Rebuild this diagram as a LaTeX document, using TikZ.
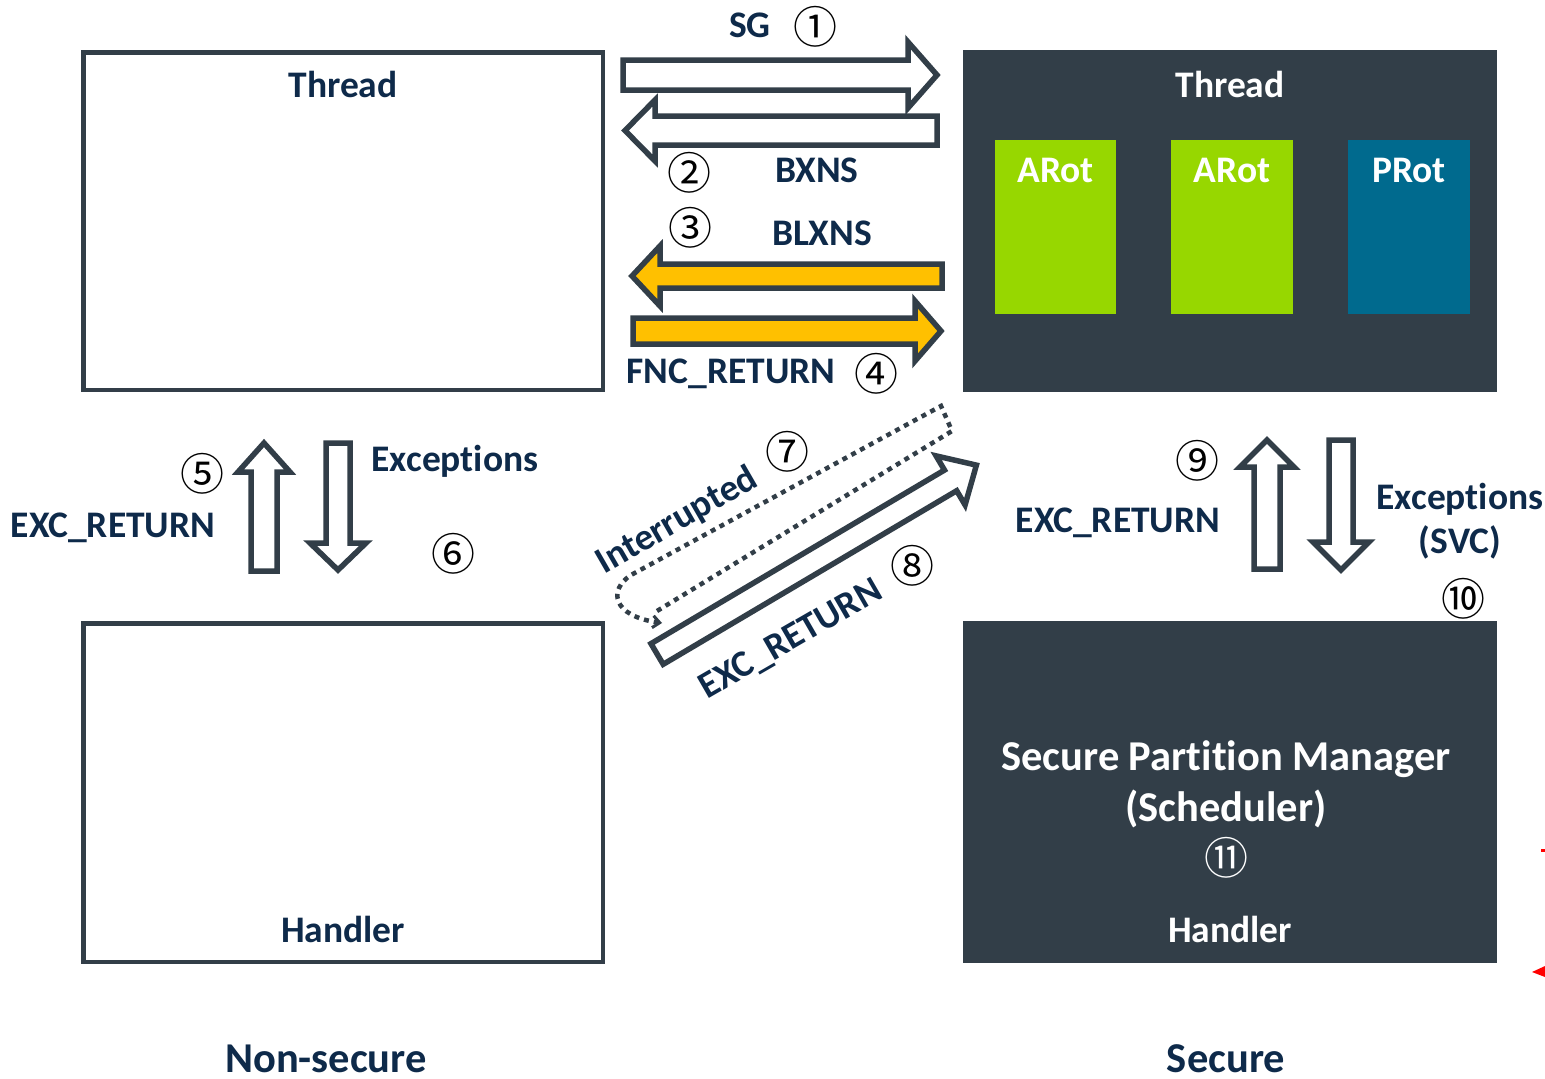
\documentclass[tikz,border=0pt]{standalone}
\usepackage{fontspec}
\setmainfont{Carlito}[Ligatures=NoCommon]
\newfontfamily\cjk{Noto Sans CJK JP}
\usetikzlibrary{arrows.meta}
\definecolor{slate}{RGB}{50,62,72}
\definecolor{navy}{RGB}{14,42,74}
\definecolor{argreen}{RGB}{151,215,0}
\definecolor{prblue}{RGB}{0,106,142}
\definecolor{amber}{RGB}{255,192,0}
\begin{document}
\begin{tikzpicture}[x=1pt,y=-1pt,
  lbl/.style={font=\fontsize{37.5}{42}\selectfont\bfseries, text=navy, inner sep=0pt, anchor=base},
  wlbl/.style={lbl, text=white},
  big/.style={font=\fontsize{42.5}{48}\selectfont\bfseries, text=navy, inner sep=0pt, anchor=base},
  wbig/.style={big, text=white},
  num/.style={font=\cjk\fontsize{44}{48}\selectfont, inner sep=0pt, text=black},
  nsbox/.style={draw=slate, line width=4.5pt, fill=white, inner sep=0pt},
  sbox/.style={fill=slate, inner sep=0pt, minimum width=534pt, minimum height=342pt},
  part/.style={inner sep=0pt, minimum width=121.5pt, minimum height=174pt},
  blk/.style={draw=slate, line width=5.5pt, fill=white, line join=miter},
  blky/.style={blk, fill=amber},
  dotline/.style={draw=slate, line width=4.5pt, dash pattern=on 5pt off 5pt},
]
\useasboundingbox (0,0) rectangle (1545,1079);
\fill[white] (0,0) rectangle (1545,1079);

% ---------- boxes ----------
\node[nsbox, minimum width=519.5pt, minimum height=337.5pt] (nsthread) at (343.25,221.25) {};
\node[nsbox, minimum width=519.5pt, minimum height=338.5pt] (nshandler) at (343.25,792.75) {};
\node[sbox] (sthread) at (1230,221) {};
\node[sbox] (shandler) at (1230,792) {};
\node[part, fill=argreen] (arot1) at (1055.5,227) {};
\node[part, fill=argreen] (arot2) at (1232,227) {};
\node[part, fill=prblue] (prot) at (1409,227) {};

% ---------- box labels ----------
\node[lbl] (tl) at (343,97) {Thread};
\node[wlbl] (tr) at (1230,97) {Thread};
\node[wlbl] (a1) at (1055.5,182) {ARot};
\node[wlbl] (a2) at (1232,182) {ARot};
\node[wlbl] (p1) at (1409,182) {PRot};
\node[lbl] (hl) at (343,942) {Handler};
\node[wlbl] (hr) at (1230,942) {Handler};
\node[wbig] (spm1) at (1226,770) {Secure Partition Manager};
\node[wbig] (spm2) at (1226,821) {(Scheduler)};
\node[num, text=white] (n11) at (1226,858) {⑪};
\node[big] (nsec) at (326,1072) {Non-secure};
\node[big] (sec) at (1226,1072) {Secure};

% ---------- horizontal block arrows ----------
\draw[blk] (623,60) -- (908,60) -- (908,42) -- (937,75) -- (908,108) -- (908,90) -- (623,90) -- cycle;
\draw[blk] (937,116) -- (655,116) -- (655,100) -- (625,130.5) -- (655,161) -- (655,145) -- (937,145) -- cycle;
\draw[blky] (942,264) -- (660,264) -- (660,246) -- (632,276) -- (660,306) -- (660,288) -- (942,288) -- cycle;
\draw[blky] (633,318) -- (915,318) -- (915,301) -- (941,331) -- (915,361) -- (915,344) -- (633,344) -- cycle;

\node[lbl] (sg) at (750,37) {SG};
\node[num] (n1) at (815,27) {①};
\node[num] (n2) at (689,173) {②};
\node[lbl] (bxns) at (817,182) {BXNS};
\node[num] (n3) at (690,228) {③};
\node[lbl] (blxns) at (822,245) {BLXNS};
\node[lbl] (fnc) at (731,383) {FNC\_RETURN};
\node[num] (n4) at (876,374) {④};

% ---------- left vertical arrows ----------
\draw[blk] (251,571) -- (251,472) -- (238,472) -- (264,443) -- (290,472) -- (277,472) -- (277,571) -- cycle;
\draw[blk] (326,443) -- (350,443) -- (350,543) -- (366,543) -- (338,570) -- (310,543) -- (326,543) -- cycle;
\node[lbl] (excl) at (455,471) {Exceptions};
\node[lbl] (retl) at (113,537) {EXC\_RETURN};
\node[num] (n5) at (202,474) {⑤};
\node[num] (n6) at (453,554) {⑥};

% ---------- right vertical arrows ----------
\draw[blk] (1254,569) -- (1254,467) -- (1240,467) -- (1267,440) -- (1294,467) -- (1280,467) -- (1280,569) -- cycle;
\draw[blk] (1329,440) -- (1353,440) -- (1353,542) -- (1369,542) -- (1341,570) -- (1313,542) -- (1329,542) -- cycle;
\node[lbl] (retr) at (1118,532) {EXC\_RETURN};
\node[lbl] (excr) at (1460,509) {Exceptions};
\node[lbl] (svc) at (1460,553) {(SVC)};
\node[num] (n9) at (1197,461) {⑨};
\node[num] (n10) at (1463,599) {⑩};

% ---------- diagonal arrows ----------
\begin{scope}[shift={(654.5,655.5)}, rotate=30.6]
  \draw[blk] (3,-12) -- (344,-12) -- (344,-28.5) -- (374,0) -- (344,28.5) -- (344,12) -- (3,12) -- cycle;
\end{scope}
\draw[dotline, -{Straight Barb[length=7pt,width=12pt,line width=3pt]}]
  (657,611) -- (952,431) -- (941,406) -- (631,575)
  .. controls (608,590) and (612,616) .. (662,623);
\node[lbl, rotate=30, anchor=center] (intr) at (677,521) {Interrupted};
\node[lbl, rotate=30, anchor=center] (retd) at (791,640) {EXC\_RETURN};
\node[num] (n7) at (787,452) {⑦};
\node[num] (n8) at (912,566) {⑧};

% ---------- small red marks at right edge ----------
\fill[red] (1532,972) -- (1545,966) -- (1545,977) -- cycle;
\fill[red] (1541,849) rectangle (1545,852);
\end{tikzpicture}
\end{document}
